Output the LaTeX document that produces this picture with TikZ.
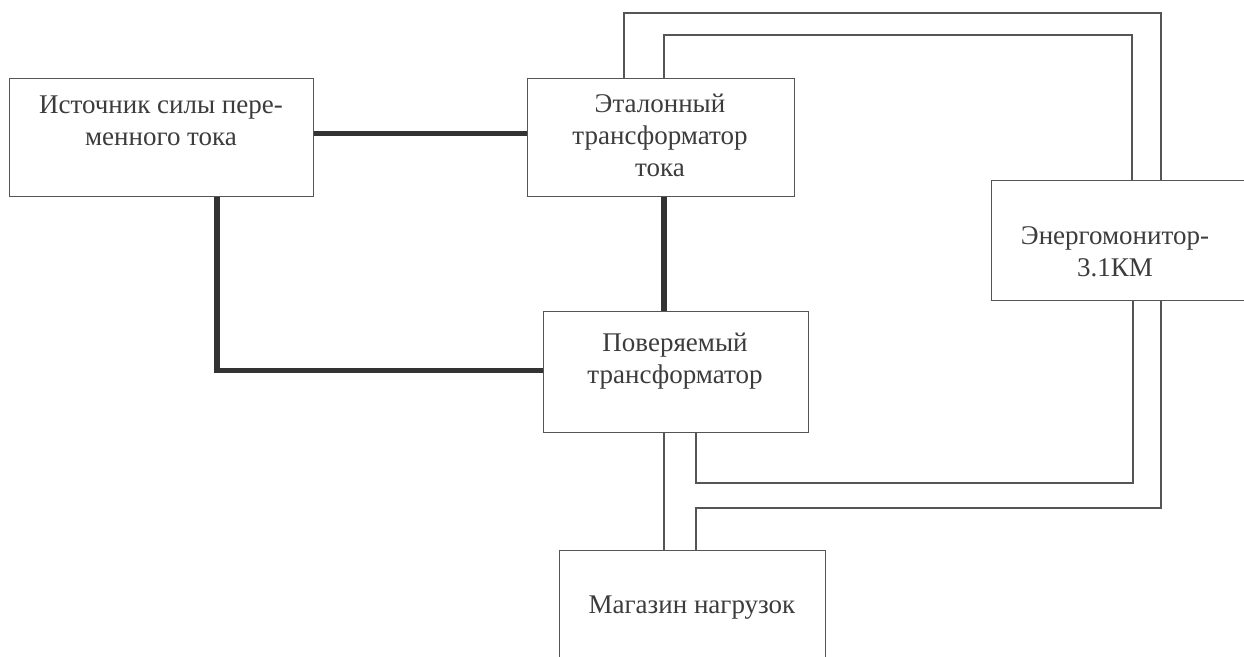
\documentclass[tikz,border=0pt]{standalone}
\usepackage{fontspec}
\setmainfont{Liberation Serif}
\usetikzlibrary{calc}
\definecolor{linecol}{HTML}{555555}
\definecolor{buscol}{HTML}{333333}
\definecolor{txtcol}{HTML}{3C3C3C}
\begin{document}
\begin{tikzpicture}[x=0.5pt,y=-0.5pt,
  box/.style={draw=linecol, line width=0.7pt, rectangle, inner sep=0pt, anchor=north west},
  lbl/.style={text=txtcol, font=\fontsize{13.5}{16}\selectfont, align=center, inner sep=0pt},
  wire/.style={draw=linecol, line width=0.7pt},
  bus/.style={draw=buscol, line width=2.6pt}]
\useasboundingbox (0,0) rectangle (1244,657);
\clip (0,0) rectangle (1244,657);
\fill[white] (0,0) rectangle (1244,657);

% boxes
\node[box, minimum width=152pt, minimum height=59pt] (src) at (9,78) {};
\node[box, minimum width=133.5pt, minimum height=59pt] (ref) at (527,78) {};
\node[box, minimum width=130pt, minimum height=60pt] (mon) at (991,180) {};
\node[box, minimum width=132.5pt, minimum height=60.5pt] (dut) at (543,311) {};
\node[box, minimum width=133pt, minimum height=70pt] (load) at (559,550) {};

% texts
\node[lbl] (srct) at (161,121) {Источник силы пере-\\менного тока};
\node[lbl] (reft) at (660,135.5) {Эталонный\\трансформатор\\тока};
\node[lbl] (mont) at (1115,251.5) {Энергомонитор-\\3.1КМ};
\node[lbl] (dutt) at (675,361) {Поверяемый\\трансформатор};
\node[lbl] (loadt) at (692,608) {Магазин нагрузок};

% thick current circuit
\draw[bus] ([yshift=2pt]src.east) -- ([yshift=2pt]src.east -| ref.west);
\coordinate (s1) at ($(src.south west)+(208,0)$);
\draw[bus] (s1) |- ([yshift=0.75pt]dut.west);
\coordinate (r1) at ($(ref.south west)+(137,0)$);
\draw[bus] (r1) -- (r1 |- dut.north);

% thin wires
\coordinate (ra) at ($(ref.north west)+(97,0)$);
\coordinate (rb) at ($(ref.north west)+(137,0)$);
\coordinate (ma) at ($(mon.north west)+(170,0)$);
\coordinate (mb) at ($(mon.north west)+(141,0)$);
\draw[wire] (ra) -- (ra |- 0,13) -| (ma);
\draw[wire] (rb) -- (rb |- 0,35) -| (mb);

\coordinate (mc) at ($(mon.south west)+(142,0)$);
\coordinate (md) at ($(mon.south west)+(170,0)$);
\coordinate (dc) at ($(dut.south west)+(153,0)$);
\coordinate (lc) at ($(load.north west)+(137,0)$);
\draw[wire] (mc) -- (mc |- 0,483) -| (dc);
\draw[wire] (md) -- (md |- 0,508) -| (lc);

\coordinate (de) at ($(dut.south west)+(121,0)$);
\draw[wire] (de) -- (de |- load.north);
\end{tikzpicture}
\end{document}
